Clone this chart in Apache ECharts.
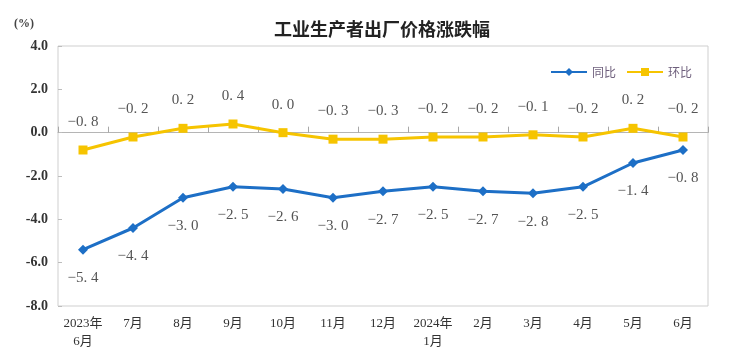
<!DOCTYPE html>
<html>
<head>
<meta charset="utf-8">
<script src="https://cdn.jsdelivr.net/npm/echarts@6/dist/echarts.min.js"></script>
<style>html,body{margin:0;padding:0;background:#fff}#c{width:748px;height:364px}</style>
</head>
<body>
<div id="c"></div>
<script>
const categories = ['2023年\n6月','7月','8月','9月','10月','11月','12月','2024年\n1月','2月','3月','4月','5月','6月'];
const yoy = [-5.4,-4.4,-3.0,-2.5,-2.6,-3.0,-2.7,-2.5,-2.7,-2.8,-2.5,-1.4,-0.8];
const mom = [-0.8,-0.2,0.2,0.4,0.0,-0.3,-0.3,-0.2,-0.2,-0.1,-0.2,0.2,-0.2];
const yTicks = [-8,-6,-4,-2,0,2,4];

const fmt = v => (v < 0 ? '\u2212' : '') + Math.abs(v).toFixed(1).replace('.', '. ');
const labelFont = {fontFamily:'Liberation Serif', fontSize:15, color:'#555'};

const chart = echarts.init(document.getElementById('c'));
chart.setOption({
  animation:false,
  backgroundColor:'#fff',
  title:{text:'工业生产者出厂价格涨跌幅', left:377, top:15, textAlign:'center',
    textStyle:{fontFamily:'Noto Sans CJK SC', fontSize:18, fontWeight:'bold', color:'#222'}},
  graphic:[{type:'text', left:14, top:18, style:{text:'(%)', font:'bold 12px "Liberation Serif"', fill:'#444'}}],
  legend:{left:545, top:61, itemWidth:36, itemHeight:10, itemGap:10,
    textStyle:{fontFamily:'Noto Sans CJK SC', fontSize:12, color:'#6e5f7c'},
    data:['同比','环比']},
  grid:{left:58, right:40, top:46, bottom:58, show:true, borderColor:'#cfcfcf', borderWidth:1},
  xAxis:[
    {type:'category', data:categories, position:'bottom', boundaryGap:true,
     axisLine:{onZero:false, show:false}, axisTick:{show:false},
     axisLabel:{interval:0, margin:9, fontFamily:'Liberation Serif, Noto Sans CJK SC', fontSize:13, color:'#333', lineHeight:18}},
    {type:'category', data:categories, position:'bottom', boundaryGap:true,
     axisLine:{onZero:true, lineStyle:{color:'#b5b5b5', width:1}},
     axisTick:{show:true, inside:true, length:6, interval:0, lineStyle:{color:'#a8a8a8', width:1}},
     axisLabel:{show:false}}
  ],
  yAxis:{type:'value', min:yTicks[0], max:yTicks[yTicks.length-1], interval:2,
    axisLine:{show:false}, splitLine:{show:false},
    axisTick:{show:true, inside:true, length:4, lineStyle:{color:'#bdbdbd'}},
    axisLabel:{formatter:v=>v.toFixed(1), margin:10, fontFamily:'Liberation Serif', fontWeight:'bold', fontSize:14, color:'#333'}},
  series:[
    {name:'同比', type:'line', xAxisIndex:0, symbol:'diamond', symbolSize:10,
     itemStyle:{color:'#1d6fc6'}, lineStyle:{width:3, color:'#1d6fc6'},
     label:Object.assign({show:true, position:'bottom', distance:16, formatter:p=>fmt(p.value)}, labelFont),
     data:yoy},
    {name:'环比', type:'line', xAxisIndex:0, symbol:'rect', symbolSize:9,
     itemStyle:{color:'#f6c400'}, lineStyle:{width:3, color:'#f6c400'},
     label:Object.assign({show:true, position:'top', distance:16, formatter:p=>fmt(p.value)}, labelFont),
     data:mom}
  ]
});
</script>
</body>
</html>
